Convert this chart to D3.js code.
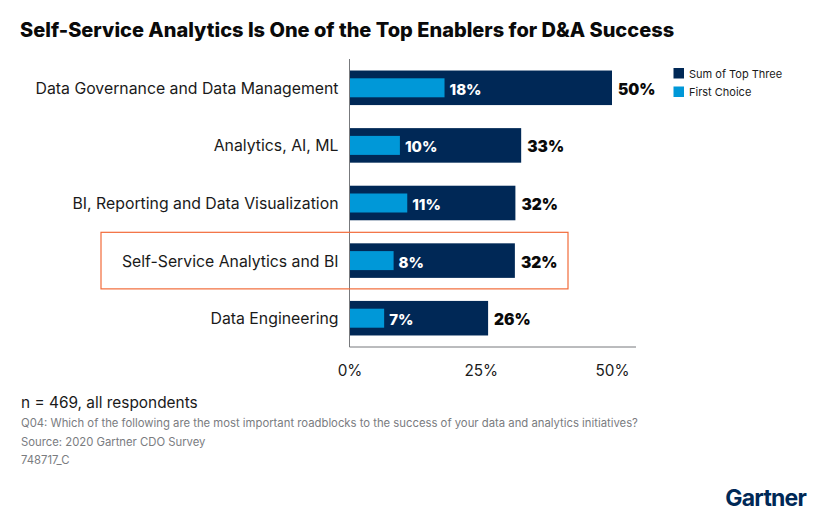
<!DOCTYPE html>
<html>
<head>
<meta charset="utf-8">
<script src="https://cdn.jsdelivr.net/npm/d3@7"></script>
<style>
  html, body { margin: 0; padding: 0; background: #fff; }
  text { font-family: Inter, sans-serif; }
  .axis path, .axis line { display: none; }
</style>
</head>
<body>
<div id="chart"></div>
<script>
var categories = [
  'Data Governance and Data Management',
  'Analytics, AI, ML',
  'BI, Reporting and Data Visualization',
  'Self-Service Analytics and BI',
  'Data Engineering'
]
var sumTopThree = [50, 32.7, 31.6, 31.5, 26.4]
var firstChoice = [18.1, 9.6, 11, 8.4, 6.6]
var xTicks = [0, 25, 50]
var legendLabels = ['Sum of Top Three', 'First Choice']
var highlighted = 'Self-Service Analytics and BI'

var navy = '#002856'
var blue = '#0098d8'

var svg = d3
  .select('#chart')
  .append('svg')
  .attr('width', 821)
  .attr('height', 515)
  .style('display', 'block')

var xPositionScale = d3.scaleLinear().domain([0, 50]).range([349.5, 612])
var yPositionScale = d3
  .scaleBand()
  .domain(categories)
  .range([59, 347])
  .paddingInner(0.4)
  .paddingOuter(0.2)
var innerHeight = yPositionScale.bandwidth() * 0.55

svg
  .append('text')
  .text('Self-Service Analytics Is One of the Top Enablers for D&A Success')
  .attr('x', 20)
  .attr('y', 37)
  .attr('font-size', 20)
  .attr('font-weight', 800)
  .attr('fill', '#0a0a0a')

// bars
svg
  .selectAll('.outer')
  .data(categories)
  .enter()
  .append('rect')
  .attr('class', 'outer')
  .attr('x', xPositionScale(0))
  .attr('y', d => yPositionScale(d))
  .attr('width', (d, i) => xPositionScale(sumTopThree[i]) - xPositionScale(0))
  .attr('height', yPositionScale.bandwidth())
  .attr('fill', navy)

svg
  .selectAll('.inner')
  .data(categories)
  .enter()
  .append('rect')
  .attr('class', 'inner')
  .attr('x', xPositionScale(0))
  .attr('y', d => yPositionScale(d) + (yPositionScale.bandwidth() - innerHeight) / 2)
  .attr('width', (d, i) => xPositionScale(firstChoice[i]) - xPositionScale(0))
  .attr('height', innerHeight)
  .attr('fill', blue)

// value labels
svg
  .selectAll('.first-label')
  .data(categories)
  .enter()
  .append('text')
  .attr('class', 'first-label')
  .text((d, i) => Math.round(firstChoice[i]) + '%')
  .attr('x', (d, i) => xPositionScale(firstChoice[i]) + 5)
  .attr('y', d => yPositionScale(d) + yPositionScale.bandwidth() / 2 + 7)
  .attr('font-size', 15)
  .attr('font-weight', 800)
  .attr('fill', '#fff')

svg
  .selectAll('.sum-label')
  .data(categories)
  .enter()
  .append('text')
  .attr('class', 'sum-label')
  .text((d, i) => Math.round(sumTopThree[i]) + '%')
  .attr('x', (d, i) => xPositionScale(sumTopThree[i]) + 6)
  .attr('y', d => yPositionScale(d) + yPositionScale.bandwidth() / 2 + 7)
  .attr('font-size', 15.5)
  .attr('font-weight', 900)
  .attr('fill', '#0a0a0a')

// axes
var yAxis = d3.axisLeft(yPositionScale).tickSize(0).tickPadding(11)
svg
  .append('g')
  .attr('class', 'axis y-axis')
  .attr('transform', 'translate(' + xPositionScale(0) + ',1)')
  .call(yAxis)
svg
  .selectAll('.y-axis text')
  .attr('font-size', 15.8)
  .attr('fill', '#1a1a1a')
  .style('font-family', 'Inter, sans-serif')

var xAxis = d3
  .axisBottom(xPositionScale)
  .tickValues(xTicks)
  .tickFormat(d => d + '%')
  .tickSize(0)
  .tickPadding(18)
svg
  .append('g')
  .attr('class', 'axis x-axis')
  .attr('transform', 'translate(0,347)')
  .call(xAxis)
svg
  .selectAll('.x-axis text')
  .attr('font-size', 15.3)
  .attr('fill', '#1a1a1a')
  .style('font-family', 'Inter, sans-serif')

svg
  .append('line')
  .attr('x1', xPositionScale(0))
  .attr('x2', xPositionScale(0))
  .attr('y1', 59)
  .attr('y2', 347)
  .attr('stroke', '#77797c')
  .attr('stroke-width', 1)
svg
  .append('line')
  .attr('x1', xPositionScale(0))
  .attr('x2', 636)
  .attr('y1', 347)
  .attr('y2', 347)
  .attr('stroke', '#77797c')
  .attr('stroke-width', 1)

// highlight box
svg
  .append('rect')
  .attr('x', 101)
  .attr('y', yPositionScale(highlighted) - 11)
  .attr('width', 467)
  .attr('height', yPositionScale.bandwidth() + 22)
  .attr('fill', 'none')
  .attr('stroke', '#f26b3a')
  .attr('stroke-width', 1.2)

// legend
var legend = svg
  .selectAll('.legend')
  .data(legendLabels)
  .enter()
  .append('g')
  .attr('class', 'legend')
  .attr('transform', (d, i) => 'translate(673.5,' + (68 + i * 18.5) + ')')
legend
  .append('rect')
  .attr('width', 10.5)
  .attr('height', 10.5)
  .attr('fill', (d, i) => (i === 0 ? navy : blue))
legend
  .append('text')
  .text(d => d)
  .attr('x', 15.5)
  .attr('y', 9.5)
  .attr('font-size', 11)
  .attr('fill', '#1a1a1a')

// footer
svg
  .append('text')
  .text('n = 469, all respondents')
  .attr('x', 21)
  .attr('y', 408)
  .attr('font-size', 15.4)
  .attr('fill', '#1a1a1a')

var notes = [
  'Q04: Which of the following are the most important roadblocks to the success of your data and analytics initiatives?',
  'Source: 2020 Gartner CDO Survey',
  '748717_C'
]
svg
  .selectAll('.note')
  .data(notes)
  .enter()
  .append('text')
  .attr('class', 'note')
  .text(d => d)
  .attr('x', 21)
  .attr('y', (d, i) => 427 + i * 18.5)
  .attr('font-size', 11.3)
  .attr('fill', '#7a7c7f')

svg
  .append('text')
  .text('Gartner')
  .attr('x', 806)
  .attr('y', 506)
  .attr('text-anchor', 'end')
  .attr('font-size', 23)
  .attr('font-weight', 700)
  .attr('letter-spacing', -0.8)
  .attr('fill', navy)
</script>
</body>
</html>
